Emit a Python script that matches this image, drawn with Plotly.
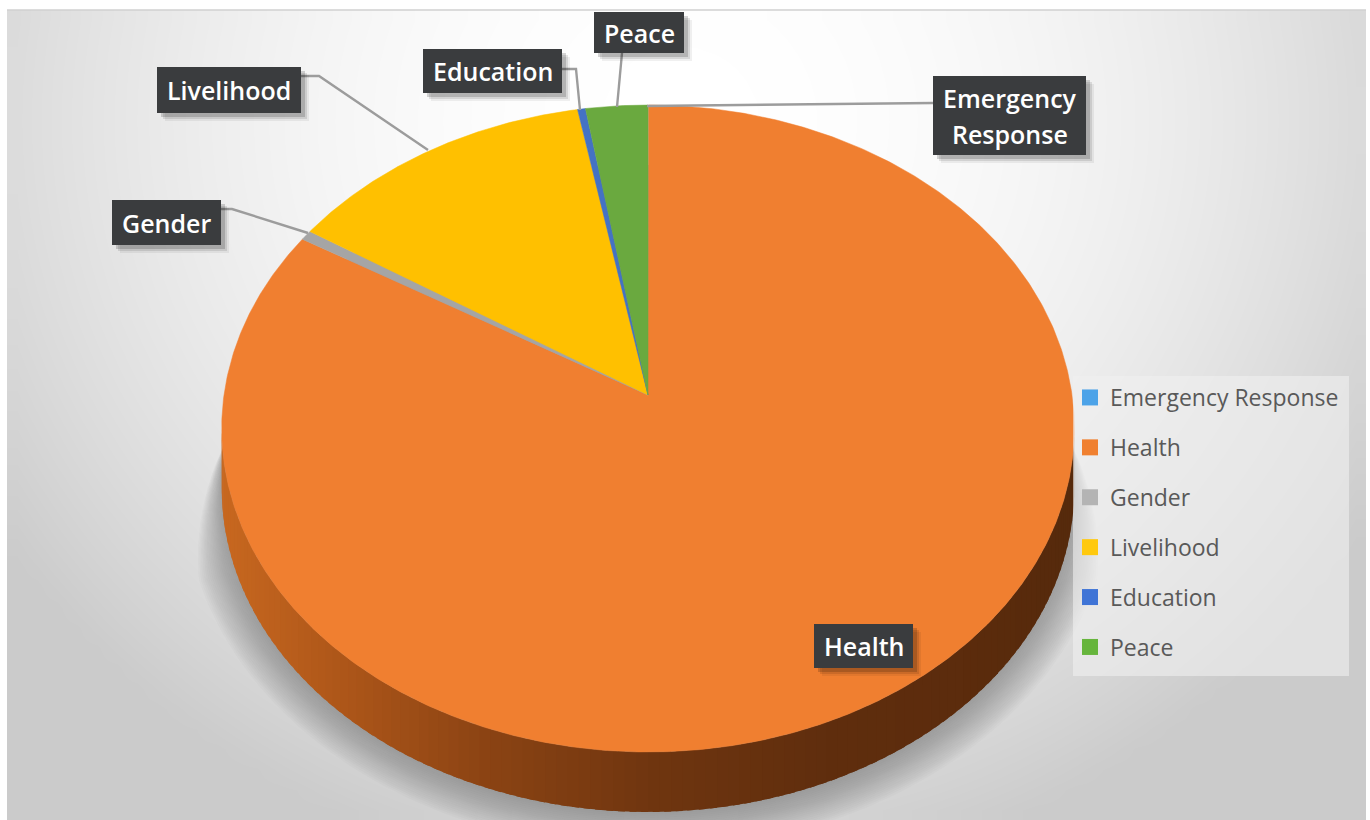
import numpy as np
import plotly.graph_objects as go

# ---- data (share of the pie, %), clockwise from 12 o'clock
categories = ["Emergency Response", "Health", "Gender", "Livelihood", "Education", "Peace"]
values = [0.02, 83.55, 0.5, 13.0, 0.33, 2.6]
colors = ["#5b9bd5", "#f07f30", "#a5a5a5", "#ffc000", "#4472c4", "#6aa93f"]
legend_colors = ["#4da3e8", "#f08030", "#b4b4b4", "#ffc90e", "#3f74d6", "#66b53c"]

# ---- projection of the pie disc (perspective tilt)
CX, CY = 648.0, 395.0
A, B, P = 424.0, 320.0, 0.1036
DEPTH = 60.0


def project(theta):
    u, v = np.sin(theta), np.cos(theta)
    return CX + A * u / (1 + P * v), CY - B * v / (1 + P * v)


fig = go.Figure()

# ---- background gradient
gx = np.linspace(7, 1366, 69)
gy = np.linspace(10, 820, 41)
xc = (gx[:-1] + gx[1:]) / 2
yc = (gy[:-1] + gy[1:]) / 2
XX, YY = np.meshgrid(xc, yc)
dist2 = ((XX - 680) / 760) ** 2 + ((YY - 120) / 720) ** 2
grey = np.clip(255 - 46 * dist2, 203, 255)
fig.add_trace(go.Heatmap(x=gx, y=gy, z=grey, zmin=0, zmax=255, zsmooth="best", showscale=False,
                         colorscale=[[0, "#000000"], [1, "#ffffff"]], hoverinfo="skip"))

# ---- soft shadow under the pie, widening towards the lower part of the disc
t = np.linspace(0, 2 * np.pi, 241)
rx0, ry0 = project(t)
ex = (rx0.max() + rx0.min()) / 2
ey = (ry0.max() + ry0.min()) / 2 + DEPTH
rw = (rx0.max() - rx0.min()) / 2
rh = (ry0.max() - ry0.min()) / 2
taper = np.clip((ey + rh * np.cos(t) - 440) / 130, 0, 1)
for k in range(20, 0, -1):
    grow = k * 1.9 * taper
    fig.add_trace(go.Scatter(x=ex + (rw + grow) * np.sin(t), y=ey + (rh + grow) * np.cos(t),
                             mode="lines", line=dict(width=0), fill="toself",
                             fillcolor="rgba(118,120,124,0.036)", showlegend=False, hoverinfo="skip"))

# ---- side wall of the pie, shaded along its length
wall_x = [222, 330, 480, 648, 820, 960, 1073]
wall_r = [200, 176, 140, 112, 96, 92, 86]
wall_g = [104, 88, 68, 54, 46, 44, 42]
wall_b = [32, 26, 20, 16, 14, 13, 12]
start = np.arccos(-P)
edges = np.linspace(start, 2 * np.pi - start, 121)
overlap = (edges[1] - edges[0]) * 0.6
for a0, a1 in zip(edges[:-1], edges[1:]):
    seg = np.linspace(a0, min(a1 + overlap, edges[-1]), 4)
    sx, sy = project(seg)
    col = "rgb(%d,%d,%d)" % (np.interp(sx.mean(), wall_x, wall_r), np.interp(sx.mean(), wall_x, wall_g),
                             np.interp(sx.mean(), wall_x, wall_b))
    fig.add_trace(go.Scatter(x=np.r_[sx, sx[::-1], sx[0]], y=np.r_[sy, sy[::-1] + DEPTH, sy[0]],
                             mode="lines", line=dict(width=0), fill="toself", fillcolor=col,
                             showlegend=False, hoverinfo="skip"))

# ---- top face: one wedge per category
shares = np.array(values) / sum(values) * 2 * np.pi
stops = np.concatenate([[0], np.cumsum(shares)])
for name, col, a0, a1 in zip(categories, colors, stops[:-1], stops[1:]):
    arc = np.linspace(a0, a1, max(3, int((a1 - a0) * 120)))
    ax, ay = project(arc)
    fig.add_trace(go.Scatter(x=np.r_[CX, ax, CX], y=np.r_[CY, ay, CY], mode="lines",
                             line=dict(width=0.5, color=col), fill="toself", fillcolor=col,
                             name=name, showlegend=False, hovertemplate=name + "<extra></extra>"))

# ---- legend entries
for name, col in zip(categories, legend_colors):
    fig.add_trace(go.Scatter(x=[None], y=[None], mode="markers", name=name, legendgroup=name,
                             marker=dict(symbol="square", size=16, color=col)))

# ---- callouts: box (x0, y0, x1, y1), leader polyline
label_lines = [["Emergency", "Response"], ["Health"], ["Gender"], ["Livelihood"], ["Education"], ["Peace"]]
label_box = [(933, 76, 1086, 155), (814, 624, 913, 668), (112, 200, 221, 245),
             (157, 67, 301, 113), (423, 49, 562, 93), (594, 12, 684, 53)]
leader_x = [[933, 647], [], [221, 232, 308], [301, 319, 428], [562, 576, 580], [622, 617]]
leader_y = [[103, 106], [], [209, 209, 233], [76, 76, 150], [69, 69, 110], [53, 107]]

for lx, ly in zip(leader_x, leader_y):
    if lx:
        fig.add_trace(go.Scatter(x=lx, y=ly, mode="lines", line=dict(color="#9c9c9c", width=2.4),
                                 showlegend=False, hoverinfo="skip"))

shapes = [dict(type="line", x0=7, x1=1366, y0=10, y1=10, line=dict(color="#d0d0d0", width=1.5), layer="above")]
annotations = []
LINE_GAP = 36
for lines, (x0, y0, x1, y1) in zip(label_lines, label_box):
    for off, alpha in ((8, 0.06), (6, 0.1), (4, 0.16)):
        shapes.append(dict(type="rect", x0=x0 + off, x1=x1 + off, y0=y0 + off, y1=y1 + off,
                           line=dict(width=0), fillcolor="rgba(0,0,0,%g)" % alpha, layer="above"))
    shapes.append(dict(type="rect", x0=x0, x1=x1, y0=y0, y1=y1, line=dict(width=0),
                       fillcolor="#3a3c3e", layer="above"))
    for i, text in enumerate(lines):
        ty = (y0 + y1) / 2 + (i - (len(lines) - 1) / 2) * LINE_GAP
        annotations.append(dict(x=(x0 + x1) / 2, y=ty, text=text, showarrow=False,
                                font=dict(family="Open Sans", size=25, color="#ffffff", weight=600),
                                xref="x", yref="y", xanchor="center", yanchor="middle"))

# legend panel
shapes.append(dict(type="rect", x0=1073, x1=1349, y0=376, y1=676, line=dict(width=0),
                   fillcolor="rgba(240,240,240,0.6)", layer="above"))

fig.update_layout(
    width=1370, height=820, margin=dict(l=0, r=0, t=0, b=0),
    paper_bgcolor="#ffffff", plot_bgcolor="#ffffff",
    xaxis=dict(range=[0, 1370], visible=False, fixedrange=True),
    yaxis=dict(range=[820, 0], visible=False, fixedrange=True),
    shapes=shapes, annotations=annotations, hovermode="closest",
    legend=dict(x=1070 / 1370, y=1 - 376 / 820, xanchor="left", yanchor="top",
                bgcolor="rgba(0,0,0,0)", borderwidth=0, tracegroupgap=17,
                font=dict(family="Open Sans", size=23, color="#595959"),
                itemclick=False, itemdoubleclick=False),
)

fig.write_html("out.html", post_script="document.body.style.margin='0';document.body.style.overflow='hidden';",
               config=dict(displayModeBar=False))
